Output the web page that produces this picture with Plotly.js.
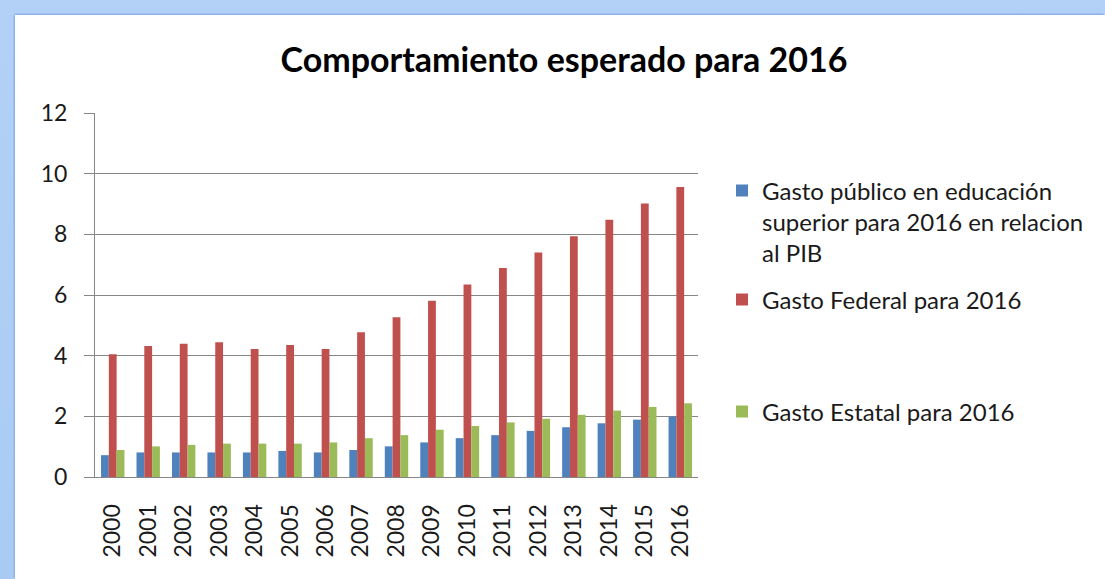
<!DOCTYPE html>
<html>
<head>
<meta charset="utf-8">
<script src="https://cdn.plot.ly/plotly-3.0.1.min.js"></script>
<style>
  html, body { margin: 0; padding: 0; }
  body { width: 1105px; height: 579px; overflow: hidden;
         background: linear-gradient(#b3d1f6, #a9cbf3); position: relative; }
  #frame { position: absolute; left: 15px; top: 15px; width: 1090px; height: 564px;
           background: #fff; border-top-left-radius: 4px;
           box-shadow: -1px -1px 0 #8fb3e4, -2px -2px 0 #9dc0ee; }
  #chart { width: 1090px; height: 564px; }
</style>
</head>
<body>
<div id="frame"><div id="chart"></div></div>
<script>
const years = ["2000","2001","2002","2003","2004","2005","2006","2007","2008","2009","2010","2011","2012","2013","2014","2015","2016"];
const gastoPublico = [0.72,0.81,0.81,0.81,0.81,0.86,0.81,0.89,1.01,1.14,1.28,1.38,1.52,1.64,1.77,1.89,1.99];
const gastoFederal = [4.05,4.32,4.39,4.44,4.22,4.35,4.22,4.77,5.27,5.81,6.35,6.89,7.40,7.94,8.48,9.02,9.56];
const gastoEstatal = [0.89,1.01,1.06,1.10,1.10,1.10,1.14,1.28,1.38,1.56,1.68,1.80,1.92,2.05,2.19,2.31,2.43];
const seriesNames = ["Gasto público en educación<br>superior para 2016 en relacion<br>al PIB", "Gasto Federal para 2016", "Gasto Estatal para 2016"];
const yTicks = [0,2,4,6,8,10,12];

const FONT = "Lato, 'Open Sans', sans-serif";
const data = [
  {type:'bar', x: years, y: gastoPublico, name: seriesNames[0], marker:{color:'#4f81bd'}, legend:'legend'},
  {type:'bar', x: years, y: gastoFederal, name: seriesNames[1], marker:{color:'#c0504d'}, legend:'legend2'},
  {type:'bar', x: years, y: gastoEstatal, name: seriesNames[2], marker:{color:'#9bbb59'}, legend:'legend3'}
];
const legendBase = {xref:'container', yref:'container', x: 707/1090, xanchor:'left', yanchor:'middle',
  font:{family:FONT, size:24, color:'#1a1a1a'}, bgcolor:'rgba(0,0,0,0)', borderwidth:0, valign:'top'};
const layout = {
  width:1090, height:564,
  paper_bgcolor:'#fff', plot_bgcolor:'#fff',
  margin:{l:80, r:407, t:98, b:102},
  title:{text:'<b>Comportamiento esperado para 2016</b>', font:{family:FONT, size:34, color:'#000'},
    xref:'container', yref:'container', x:549/1090, xanchor:'center', y:1-45/564, yanchor:'middle'},
  barmode:'group', bargap:0.34, bargroupgap:0,
  xaxis:{type:'category', tickangle:-90, showline:true, linecolor:'#868686', linewidth:1,
    ticks:'', tickfont:{family:FONT, size:23, color:'#1a1a1a'}, ticklabelstandoff:17, showgrid:false},
  yaxis:{range:[0,12], tickvals:yTicks, ticktext:yTicks.map(String), showline:true, linecolor:'#868686', linewidth:1,
    ticks:'outside', ticklen:10, tickcolor:'#868686', showgrid:true, gridcolor:'#868686', gridwidth:1,
    zeroline:false, tickfont:{family:FONT, size:23, color:'#1a1a1a'}, ticklabelstandoff:12},
  showlegend:true,
  legend: Object.assign({}, legendBase, {y: 1-207/564}),
  legend2: Object.assign({}, legendBase, {y: 1-285/564}),
  legend3: Object.assign({}, legendBase, {y: 1-397/564})
};
Plotly.newPlot('chart', data, layout, {displayModeBar:false, staticPlot:true});
</script>
</body>
</html>
